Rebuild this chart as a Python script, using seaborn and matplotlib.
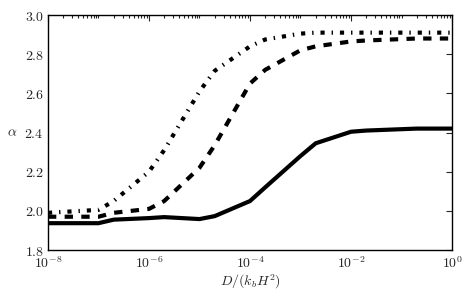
import numpy as np
import pandas as pd
import matplotlib
matplotlib.use("Agg")
import matplotlib.pyplot as plt
import matplotlib.ticker as mticker
import seaborn as sns

# ---- data ----
D = [1e-8, 1e-7, 2e-7, 1e-6, 2e-6, 1e-5, 2e-5, 1e-4, 2e-4, 1e-3, 2e-3, 1e-2, 2e-2, 1e-1, 2e-1, 1.0]
alpha_solid = [1.937, 1.937, 1.955, 1.963, 1.968, 1.958, 1.973, 2.05, 2.12, 2.28, 2.345, 2.404, 2.41, 2.417, 2.42, 2.42]
alpha_dashed = [1.97, 1.97, 1.99, 2.01, 2.05, 2.22, 2.335, 2.65, 2.72, 2.82, 2.84, 2.865, 2.87, 2.877, 2.88, 2.88]
alpha_dashdot = [1.99, 2.005, 2.05, 2.20, 2.31, 2.61, 2.715, 2.84, 2.875, 2.905, 2.91, 2.91, 2.91, 2.91, 2.91, 2.91]

xticks = [1e-8, 1e-6, 1e-4, 1e-2, 1e0]
yticks = [1.8, 2.0, 2.2, 2.4, 2.6, 2.8, 3.0]

sns.set_style("white")
plt.rcParams.update({
    "mathtext.fontset": "cm",
    "lines.scale_dashes": False,
    "lines.dashed_pattern": [6, 6],
    "lines.dashdot_pattern": [3, 5, 1, 5],
    "xtick.direction": "in",
    "ytick.direction": "in",
    "xtick.top": True,
    "ytick.right": True,
    "xtick.major.size": 4,
    "xtick.minor.size": 2,
    "ytick.major.size": 4,
    "xtick.major.width": 0.8,
    "ytick.major.width": 0.8,
    "xtick.minor.width": 0.8,
    "axes.edgecolor": "black",
    "axes.linewidth": 1.0,
})

fig = plt.figure(figsize=(4.76, 2.95), dpi=100)
ax = fig.add_axes([0.1008, 0.1525, 0.8488, 0.7966])

df = pd.DataFrame({"D": D, "solid": alpha_solid, "dashed": alpha_dashed, "dashdot": alpha_dashdot})
sns.lineplot(data=df, x="D", y="solid", ax=ax, color="black", lw=3, ls="-")
sns.lineplot(data=df, x="D", y="dashed", ax=ax, color="black", lw=3, ls="--")
sns.lineplot(data=df, x="D", y="dashdot", ax=ax, color="black", lw=3, ls="-.")

ax.set_xscale("log")
ax.set_xlim(1e-8, 1)
ax.set_ylim(1.8, 3.0)
ax.xaxis.set_major_locator(mticker.FixedLocator(xticks))
ax.xaxis.set_minor_locator(mticker.LogLocator(base=10, subs=np.arange(1, 10), numticks=100))
ax.xaxis.set_major_formatter(mticker.FuncFormatter(lambda v, p: r"$10^{%d}$" % int(round(np.log10(v)))))
ax.xaxis.set_minor_formatter(mticker.NullFormatter())
ax.yaxis.set_major_locator(mticker.FixedLocator(yticks))
ax.yaxis.set_major_formatter(mticker.FuncFormatter(lambda v, p: r"$%.1f$" % v))
ax.tick_params(axis="x", which="both", labelsize=10, pad=4)
ax.tick_params(axis="y", which="both", labelsize=10, pad=3)

ax.set_xlabel(r"$D/(k_bH^2)$", fontsize=10, labelpad=1)
ax.set_ylabel(r"$\alpha$", fontsize=10, rotation=0, labelpad=9, va="center")
for s in ax.spines.values():
    s.set_visible(True)
    s.set_color("black")

fig.savefig("out.png", dpi=100)
